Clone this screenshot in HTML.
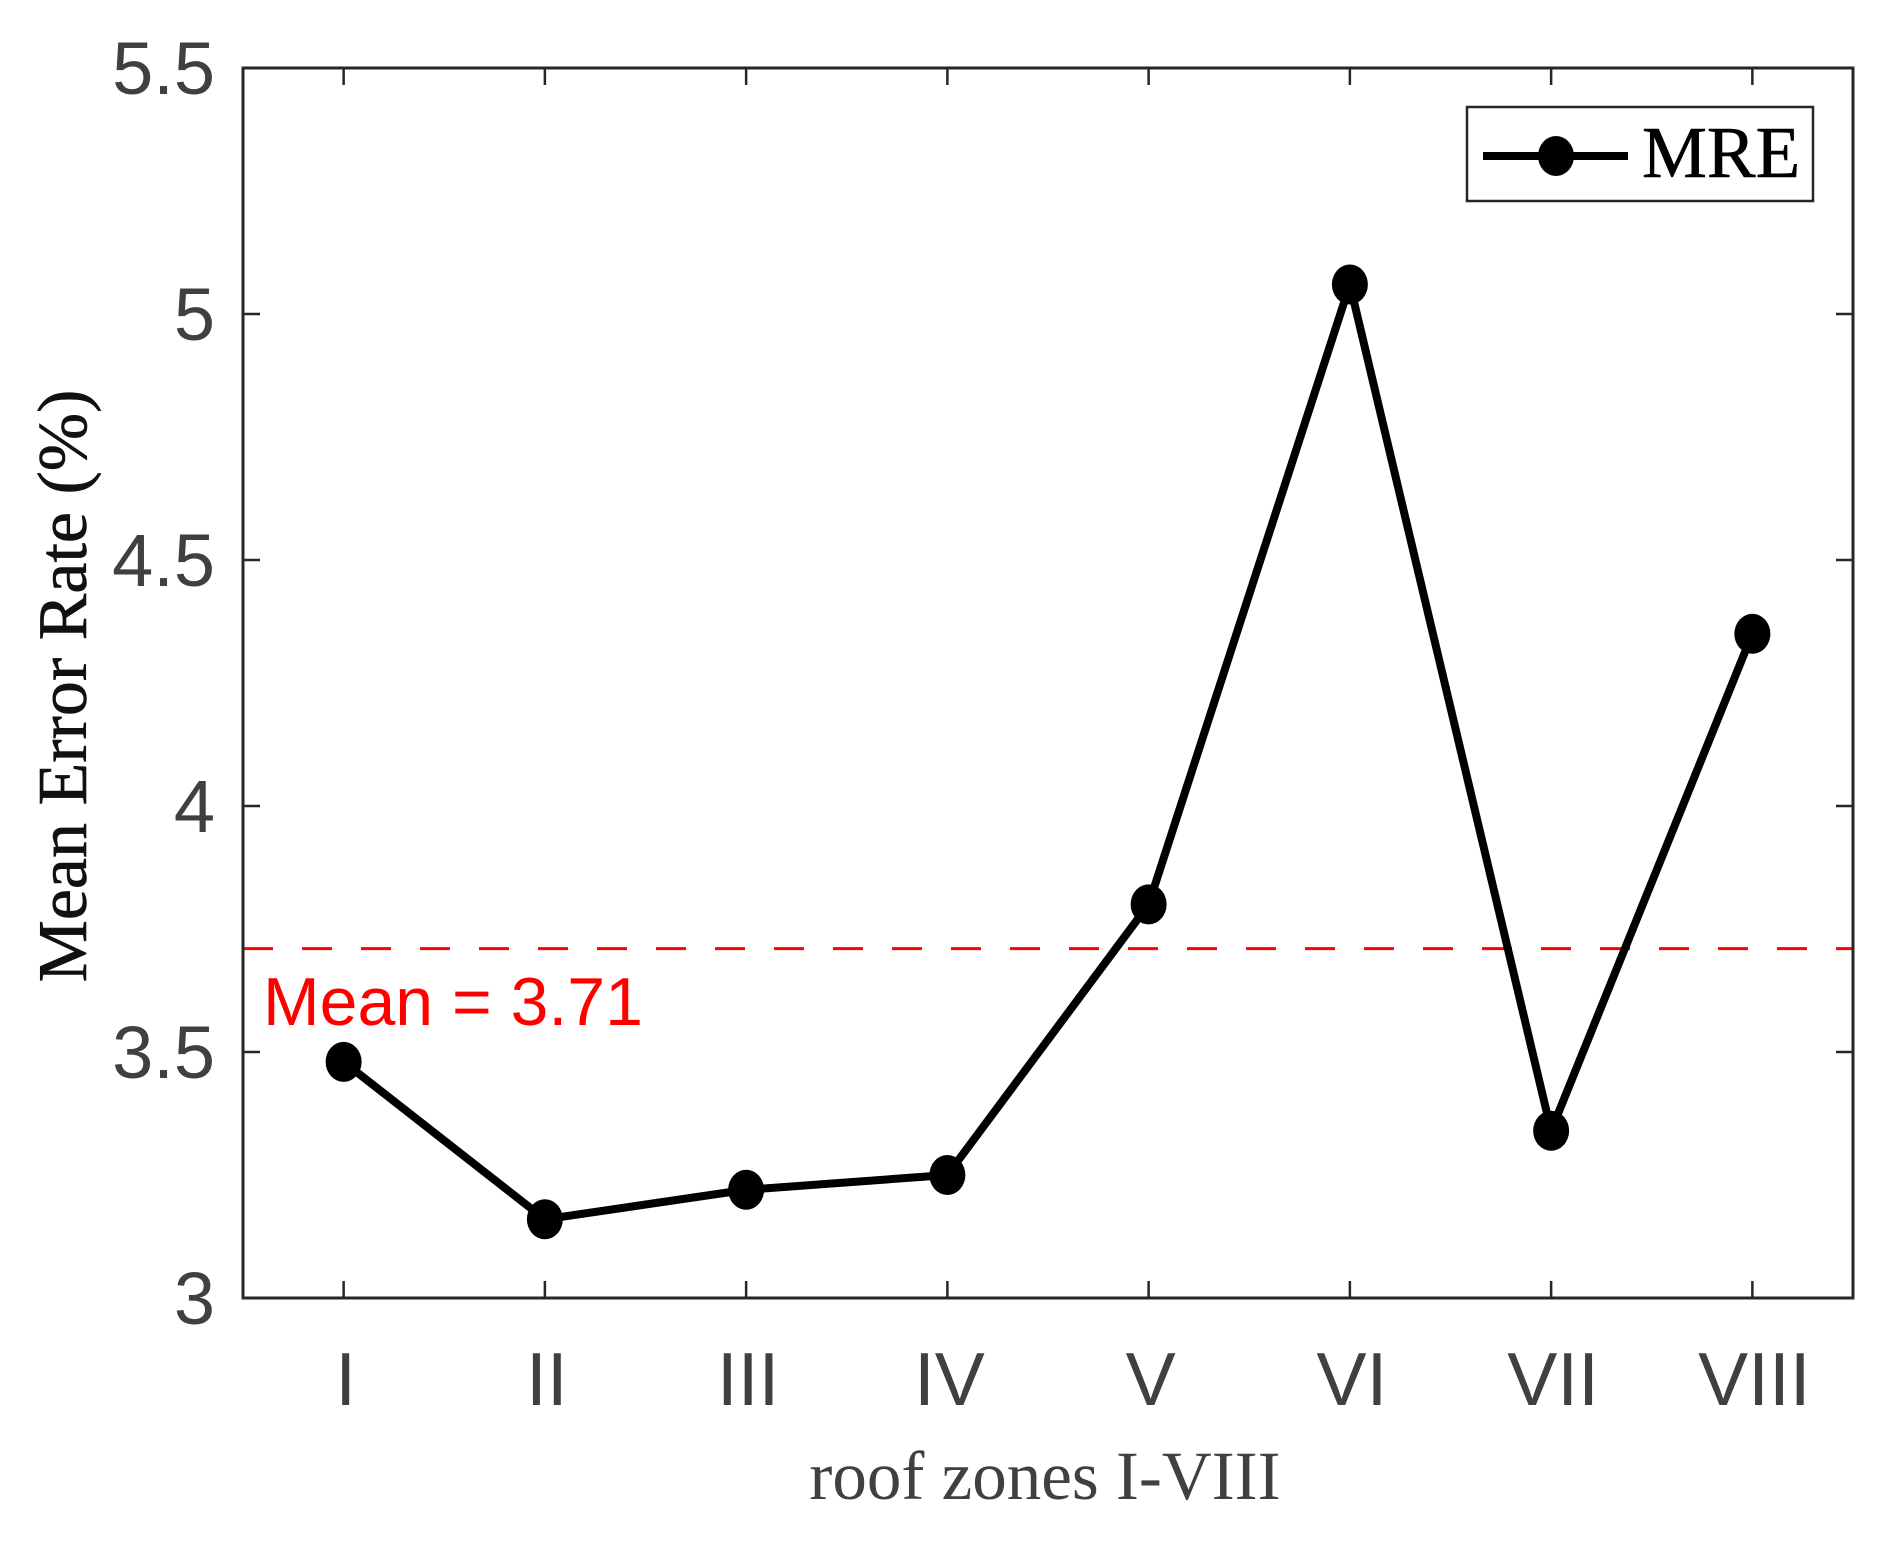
<!DOCTYPE html>
<html><head><meta charset="utf-8"><style>
html,body{margin:0;padding:0;background:#fff;}
svg{display:block;}
</style></head><body>
<svg id="chart" width="1900" height="1551" viewBox="0 0 1900 1551" xmlns="http://www.w3.org/2000/svg">
<rect width="1900" height="1551" fill="#fff"/>
<text transform="translate(86,686) rotate(-90)" text-anchor="middle" font-family="Liberation Serif, serif" font-size="70" fill="#111" stroke="#111" stroke-width="0.6">Mean Error Rate (%)</text>
<text x="1045" y="1499" text-anchor="middle" font-family="Liberation Serif, serif" font-size="69" fill="#404040">roof zones I-VIII</text>
</svg>
<script>
const categories = ["I","II","III","IV","V","VI","VII","VIII"];
const mreValues = [3.48, 3.16, 3.22, 3.25, 3.80, 5.06, 3.34, 4.35];
const yTicks = [3, 3.5, 4, 4.5, 5, 5.5];
const yTickLabels = ["3","3.5","4","4.5","5","5.5"];
const meanValue = 3.71;
const meanLabel = "Mean = 3.71";

const L=243,R=1853,T=68,B=1298;
const xMin=0.5,xMax=8.5,yMin=3,yMax=5.5;
function xs(i){return L+(i+1-xMin)/(xMax-xMin)*(R-L);}
function ys(v){return B-(v-yMin)/(yMax-yMin)*(B-T);}
const NS="http://www.w3.org/2000/svg";
const svg=document.getElementById('chart');
function mk(tag,attrs,parent){const e=document.createElementNS(NS,tag);for(const k in attrs)e.setAttribute(k,attrs[k]);(parent||svg).appendChild(e);return e;}

const ml=mk('line',{x1:L,x2:R,y1:ys(meanValue),y2:ys(meanValue),stroke:'#ff0000','stroke-width':3,'stroke-dasharray':'30 29'});


const mt=mk('text',{x:263,y:1025,'font-family':'Liberation Sans, sans-serif','font-size':68,fill:'#ff0000'});
mt.textContent=meanLabel;



const box=mk('rect',{x:L,y:T,width:R-L,height:B-T,fill:'none',stroke:'#262626','stroke-width':3});



yTicks.forEach((v,i)=>{
  const y=ys(v);
  mk('line',{x1:L,x2:L+17,y1:y,y2:y,stroke:'#262626','stroke-width':2.5});
  mk('line',{x1:R,x2:R-17,y1:y,y2:y,stroke:'#262626','stroke-width':2.5});
  const t=mk('text',{x:215,y:y+26,'text-anchor':'end','font-family':'Liberation Sans, sans-serif','font-size':74,fill:'#404040'});
  t.textContent=yTickLabels[i];
  
  
});
categories.forEach((c,i)=>{
  const x=xs(i);
  mk('line',{x1:x,x2:x,y1:B,y2:B-17,stroke:'#262626','stroke-width':2.5});
  mk('line',{x1:x,x2:x,y1:T,y2:T+17,stroke:'#262626','stroke-width':2.5});
  const t=mk('text',{x:x+2,y:1405,'text-anchor':'middle','font-family':'Liberation Sans, sans-serif','font-size':75,fill:'#404040'});
  t.textContent=c;
  
  
});

const pts=mreValues.map((v,i)=>xs(i)+','+ys(v)).join(' ');
const pl=mk('polyline',{points:pts,fill:'none',stroke:'#000','stroke-width':8,'stroke-linejoin':'round'});


mreValues.forEach((v,i)=>{
  const c=mk('ellipse',{cx:xs(i),cy:ys(v),rx:18,ry:20,fill:'#000'});
  
  
});

const lg=mk('g',{});


mk('rect',{x:1467,y:107,width:346,height:94,fill:'#fff',stroke:'#262626','stroke-width':2.5},lg);
mk('line',{x1:1483,x2:1628,y1:156,y2:156,stroke:'#000','stroke-width':8},lg);
mk('ellipse',{cx:1556,cy:156,rx:18,ry:20,fill:'#000'},lg);
const lt=mk('text',{x:1642,y:177,'font-family':'Liberation Serif, serif','font-size':73,fill:'#000',stroke:'#000','stroke-width':0.6},lg);
lt.textContent='MRE';


</script>
</body></html>
